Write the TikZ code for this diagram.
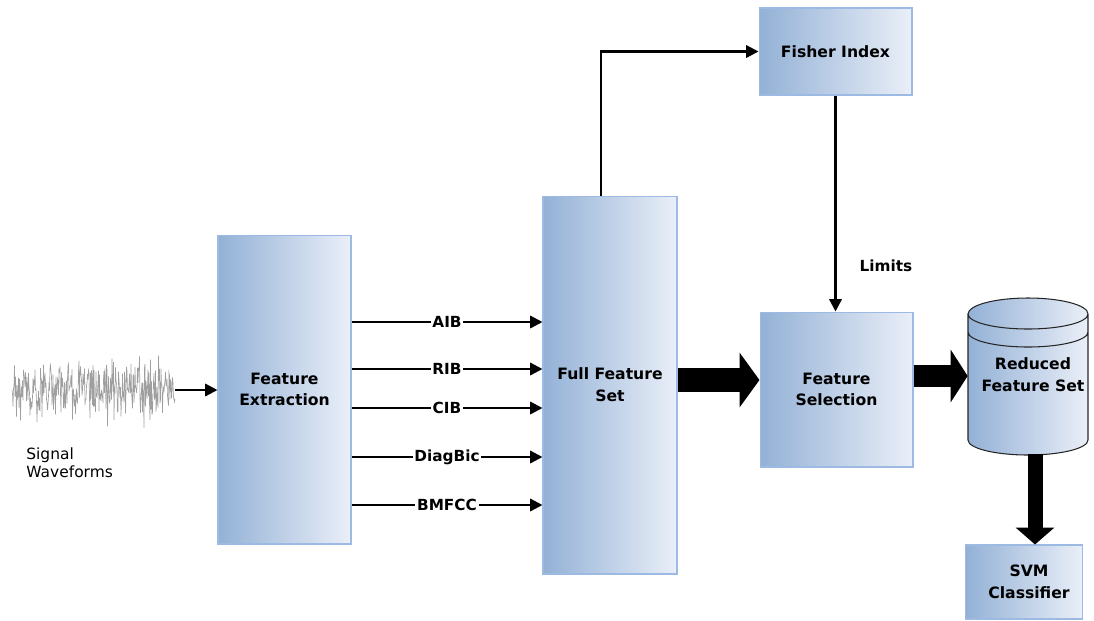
\documentclass[tikz,border=0pt]{standalone}
\usepackage{fontspec}
\setmainfont{DejaVu Sans}
\usetikzlibrary{arrows.meta}
\definecolor{boxleft}{RGB}{147,177,214}
\definecolor{boxright}{RGB}{234,239,248}
\definecolor{boxline}{RGB}{157,187,226}
\tikzset{
  blockbox/.style={draw=boxline, line width=0.6pt, left color=boxleft, right color=boxright,
    align=center, font=\fontsize{8.9}{12.4}\selectfont\bfseries},
  thinarrow/.style={-{Triangle[length=7pt,width=7pt]}, line width=1.3pt},
  lbl/.style={fill=white, inner sep=1pt, font=\fontsize{8.7}{10}\selectfont\bfseries},
  fatarrow/.style={line width=0.48cm, -{Triangle[length=0.4cm,width=1.08cm]}},
}
\begin{document}
\begin{tikzpicture}[x=0.02cm, y=-0.02cm]
    \useasboundingbox (0,0) rectangle (1094,620);

    % signal
    \pgfmathsetseed{11}
    \draw[gray!75, line width=0.35pt] (12,390)
      \foreach \i in {12.5,13,...,175} { -- (\i,{390+22*rand+40*rand*rand*rand}) };
    \node[anchor=north west, align=left, inner sep=0,
      font=\fontsize{8.8}{10.4}\selectfont] (sigtxt) at (26,447) {Signal\\Waveforms};
    \coordinate (sigend) at (175,390);

    % blocks
    \node[blockbox, minimum width=2.66cm, minimum height=6.18cm] (extract) at (284.5,389.5)
      {Feature\\Extraction};
    \node[blockbox, minimum width=2.68cm, minimum height=7.56cm] (fullset) at (610,385)
      {Full Feature\\Set};
    \node[blockbox, minimum width=3.06cm, minimum height=1.74cm] (fisher) at (835.5,51.5)
      {Fisher Index};
    \node[blockbox, minimum width=3.06cm, minimum height=3.1cm] (select) at (836.5,389.5)
      {Feature\\Selection};
    \node[blockbox, minimum width=2.24cm, minimum height=1.48cm, text width=2.1cm] (svm) at (1024,582)
      {\hspace*{0.2cm}SVM\\\hspace*{0.2cm}Classifier};

    % cylinder
    \path[left color=boxleft, right color=boxright]
      (968,314) -- (968,440) arc[start angle=180, end angle=360, x radius=1.2cm, y radius=0.3cm]
      -- (1088,314) arc[start angle=0, end angle=180, x radius=1.2cm, y radius=0.32cm] -- cycle;
    \draw[black!85, line width=0.6pt]
      (968,314) -- (968,440) arc[start angle=180, end angle=360, x radius=1.2cm, y radius=0.3cm]
      -- (1088,314) arc[start angle=0, end angle=180, x radius=1.2cm, y radius=0.32cm] -- cycle
      (968,314) arc[start angle=180, end angle=360, x radius=1.2cm, y radius=0.3cm]
      (968,332) arc[start angle=180, end angle=360, x radius=1.2cm, y radius=0.3cm];
    \node[minimum width=2.4cm, minimum height=3.12cm] (reduced) at (1028,376) {};
    \node[align=center, font=\fontsize{8.9}{12.4}\selectfont\bfseries] (redtxt) at (1033,375)
      {Reduced\\Feature Set};

    % feature arrows
    \coordinate (aib) at (0,322);
    \coordinate (rib) at (0,369);
    \coordinate (cib) at (0,408);
    \coordinate (diag) at (0,457);
    \coordinate (bmfcc) at (0,505);
    \draw[thinarrow] (sigend) -- (extract.west |- sigend);
    \draw[thinarrow] (extract.east |- aib) -- (fullset.west |- aib) node[midway, lbl] {AIB};
    \draw[thinarrow] (extract.east |- rib) -- (fullset.west |- rib) node[midway, lbl] {RIB};
    \draw[thinarrow] (extract.east |- cib) -- (fullset.west |- cib) node[midway, lbl] {CIB};
    \draw[thinarrow] (extract.east |- diag) -- (fullset.west |- diag) node[midway, lbl] {DiagBic};
    \draw[thinarrow] (extract.east |- bmfcc) -- (fullset.west |- bmfcc) node[midway, lbl] {BMFCC};

    % fisher loop
    \draw[thinarrow] ([xshift=-0.18cm]fullset.north) |- (fisher.west);
    \draw[thinarrow] (fisher.south) -- (fisher.south |- select.north);
    \node[font=\fontsize{8.7}{10}\selectfont\bfseries] (limits) at (886,266) {Limits};

    % big arrows
    \coordinate (fatA) at (0,380);
    \coordinate (fatB) at (0,376);
    \draw[fatarrow] (fullset.east |- fatA) -- (select.west |- fatA);
    \draw[fatarrow, line width=0.44cm, -{Triangle[length=0.34cm,width=1.04cm]}]
      (select.east |- fatB) -- (reduced.west |- fatB);
    \draw[fatarrow, line width=0.3cm, -{Triangle[length=0.34cm,width=0.76cm]}]
      ([xshift=0.14cm]reduced.south) -- ([xshift=0.14cm]reduced.south |- svm.north);
\end{tikzpicture}
\end{document}
